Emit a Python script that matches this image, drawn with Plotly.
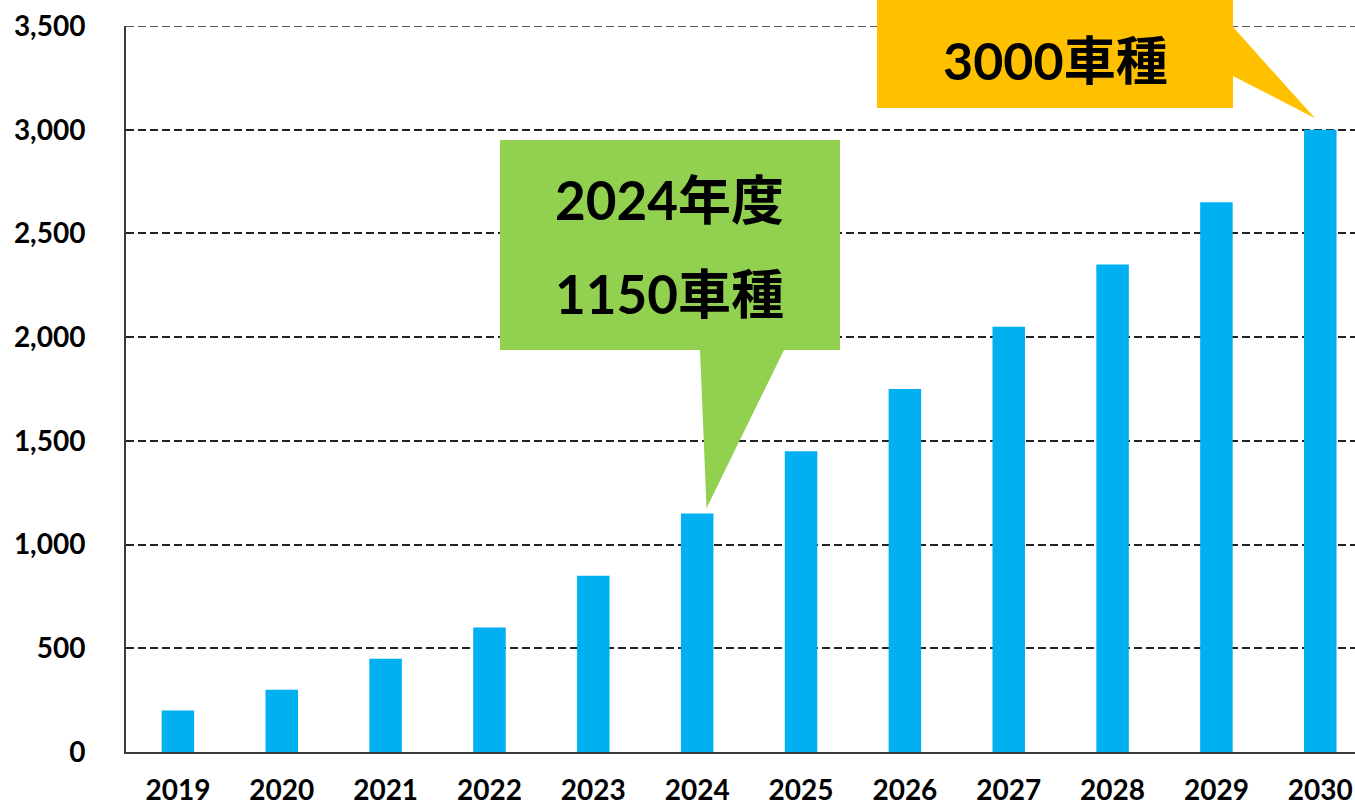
import plotly.graph_objects as go

# ---- data ----
years = [2019, 2020, 2021, 2022, 2023, 2024, 2025, 2026, 2027, 2028, 2029, 2030]
models = [200, 300, 450, 600, 850, 1150, 1450, 1750, 2050, 2350, 2650, 3000]
y_ticks = [0, 500, 1000, 1500, 2000, 2500, 3000, 3500]
y_tick_labels = ["0", "500", "1,000", "1,500", "2,000", "2,500", "3,000", "3,500"]
callout_green_lines = ["2024年度", "1150車種"]
callout_yellow_text = "3000車種"
axis_title = "（車種数）"

# ---- layout geometry ----
W, H = 1355, 806
ML, MR, MT, MB = 126, 0, 26, 54
PW, PH = W - ML - MR, H - MT - MB
X0 = years[0] - 0.5
XSPAN = PW / 103.85
Y0, Y1 = 0, 3500


def px(xv):  # data x -> paper x
    return (xv - X0) / XSPAN


def py(yv):  # data y -> paper y
    return (yv - Y0) / (Y1 - Y0)


def pxl(pixel_x):  # pixel -> paper
    return (pixel_x - ML) / PW


def pyl(pixel_y):
    return (H - MB - pixel_y) / PH


FONT_NUM = "Lato, 'Noto Sans CJK JP', sans-serif"

fig = go.Figure()
fig.add_trace(go.Bar(
    x=years, y=models, width=0.313,
    marker=dict(color="#00B0F0", line=dict(width=0)),
    hoverinfo="x+y",
))

shapes = []
annotations = []

# top dashed gridline at the range maximum
shapes.append(dict(type="line", xref="paper", yref="y", x0=0, x1=1, y0=Y1, y1=Y1,
                   line=dict(color="#222222", width=1.5, dash="8px,4px"), layer="below"))

# green callout pointing at 2024 bar
i24 = years.index(2024)
tip_x, tip_y = px(years[i24] + 0.09), py(models[i24] + 25)
gx0, gx1 = pxl(500), pxl(840)
gy0, gy1 = pyl(350), pyl(140)
bx0, bx1 = pxl(700), pxl(784)
path = (f"M {gx0},{gy0} L {bx0},{gy0} L {tip_x},{tip_y} L {bx1},{gy0} "
        f"L {gx1},{gy0} L {gx1},{gy1} L {gx0},{gy1} Z")
shapes.append(dict(type="path", xref="paper", yref="paper", path=path,
                   fillcolor="#92D050", line=dict(width=0), layer="above"))
annotations.append(dict(xref="paper", yref="paper", x=pxl(669), y=pyl(199),
                        text=f"<b>{callout_green_lines[0]}</b>", showarrow=False,
                        font=dict(family=FONT_NUM, size=53, color="black"),
                        xanchor="center", yanchor="middle"))
annotations.append(dict(xref="paper", yref="paper", x=pxl(669), y=pyl(293),
                        text=f"<b>{callout_green_lines[1]}</b>", showarrow=False,
                        font=dict(family=FONT_NUM, size=53, color="black"),
                        xanchor="center", yanchor="middle"))

# yellow callout pointing at 2030 bar
i30 = years.index(2030)
tip_x2, tip_y2 = px(years[i30] - 0.05), py(models[i30] + 55)
yx0, yx1 = pxl(877), pxl(1233)
yy0, yy1 = pyl(108), pyl(-5)
pa, pb = pyl(27), pyl(76)
path2 = (f"M {yx0},{yy0} L {yx1},{yy0} L {yx1},{pb} L {tip_x2},{tip_y2} "
         f"L {yx1},{pa} L {yx1},{yy1} L {yx0},{yy1} Z")
shapes.append(dict(type="path", xref="paper", yref="paper", path=path2,
                   fillcolor="#FFC000", line=dict(width=0), layer="above"))
annotations.append(dict(xref="paper", yref="paper", x=pxl(1055), y=pyl(60),
                        text=f"<b>{callout_yellow_text}</b>", showarrow=False,
                        font=dict(family=FONT_NUM, size=52, color="black"),
                        xanchor="center", yanchor="middle"))

# partially visible axis title at the very top (cut off in the original)
annotations.append(dict(xref="paper", yref="paper", x=pxl(112), y=pyl(4),
                        text=f"<b>{axis_title}</b>", showarrow=False,
                        font=dict(family="'Noto Sans CJK JP', sans-serif", size=36, color="black"),
                        xanchor="left", yanchor="bottom"))

fig.update_layout(
    width=W, height=H,
    margin=dict(l=ML, r=MR, t=MT, b=MB, pad=0, autoexpand=False),
    paper_bgcolor="white", plot_bgcolor="white",
    showlegend=False,
    shapes=shapes,
    annotations=annotations,
    xaxis=dict(
        range=[X0, X0 + XSPAN], tickmode="array", tickvals=years,
        ticktext=[str(y) for y in years],
        showgrid=False, zeroline=False, automargin=False,
        showline=True, linecolor="#3a3a3a", linewidth=2,
        ticks="", ticklabelstandoff=12,
        tickfont=dict(family=FONT_NUM, size=28, color="black", weight="bold"),
        fixedrange=True,
    ),
    yaxis=dict(
        range=[Y0, Y1], tickmode="array", tickvals=y_ticks, ticktext=y_tick_labels,
        showgrid=True, gridcolor="#222222", gridwidth=1.5, griddash="8px,4px",
        zeroline=False, automargin=False,
        showline=True, linecolor="#3a3a3a", linewidth=2,
        ticks="", ticklabelstandoff=33,
        tickfont=dict(family=FONT_NUM, size=28, color="black", weight="bold"),
        fixedrange=True,
    ),
)

fig.write_html("out.html", config={"displayModeBar": False})
